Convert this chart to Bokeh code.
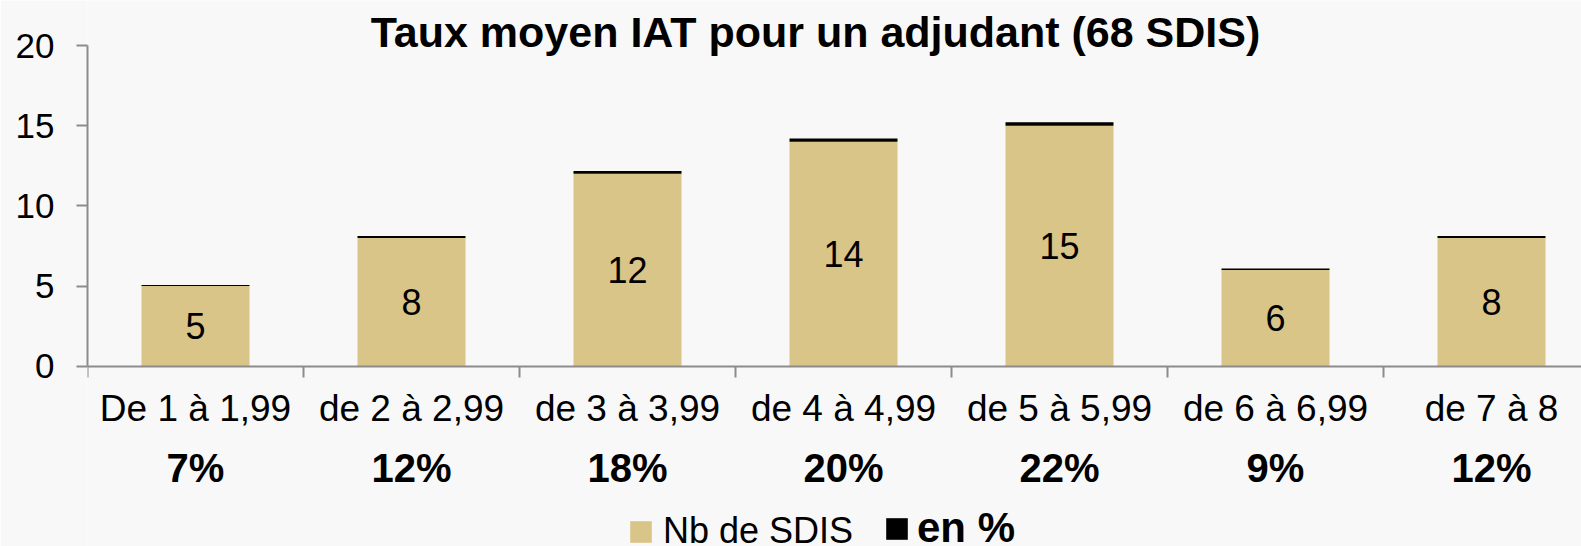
from bokeh.plotting import figure
from bokeh.models import (Range1d, FixedTicker, ColumnDataSource, LabelSet, Label,
                          Legend, LegendItem)
from bokeh.core.properties import value
from bokeh.embed import file_html
from bokeh.resources import INLINE

# ---------------- data ----------------
categories = ["De 1 à 1,99", "de 2 à 2,99", "de 3 à 3,99", "de 4 à 4,99",
              "de 5 à 5,99", "de 6 à 6,99", "de 7 à 8"]
nb_sdis = [5, 8, 12, 14, 15, 6, 8]
en_pct = [0.07, 0.12, 0.18, 0.20, 0.22, 0.09, 0.12]
y_ticks = [0, 5, 10, 15, 20]
title_text = "Taux moyen IAT pour un adjudant (68 SDIS)"
series_names = ["Nb de SDIS", "en %"]

# ---------------- style / layout ----------------
FONT = "Liberation Sans"
BAR = "#D8C587"
AXIS = "#8C8C8C"
BG = "#F8F8F8"

W, H = 1581, 546
BORDER_L = 87
CAT_PX = 216.0          # pixels per category
Y0_PX = 365.7           # pixel row of value 0
Y20_PX = 45.0           # pixel row of value 20
px_per_unit = (Y0_PX - Y20_PX) / (y_ticks[-1] - y_ticks[0])
frame_w = W - BORDER_L

def ydata(px):
    return (Y0_PX - px) / px_per_unit

x_centers = [i + 0.5 for i in range(len(categories))]
source = ColumnDataSource(dict(
    x=x_centers,
    nb=nb_sdis,
    nb_txt=[str(v) for v in nb_sdis],
    nb_mid=[v / 2 for v in nb_sdis],
    pct_top=[n + p for n, p in zip(nb_sdis, en_pct)],
    pct_txt=["%d%%" % round(p * 100) for p in en_pct],
    pct_y=[ydata(481)] * len(categories),
))

p = figure(width=W, height=H, output_backend="svg", toolbar_location=None,
           x_range=Range1d(0, frame_w / CAT_PX),
           y_range=Range1d(ydata(H), ydata(0)),
           min_border_left=BORDER_L, min_border_right=0, min_border_top=0,
           min_border_bottom=0)
p.background_fill_color = BG
p.border_fill_color = BG
p.outline_line_color = None
p.xgrid.visible = False
p.ygrid.visible = False

r1 = p.vbar(x="x", width=0.5, bottom=0, top="nb", source=source,
            fill_color=BAR, line_color=None)
r2 = p.vbar(x="x", width=0.5, bottom="nb", top="pct_top", source=source,
            fill_color="black", line_color=None)

p.text(x="x", y="nb_mid", text="nb_txt", source=source, text_align="center",
       text_baseline="middle", text_font=value(FONT), text_font_size="36px",
       text_color="black")

# y axis
ya = p.yaxis[0]
ya.ticker = FixedTicker(ticks=y_ticks, minor_ticks=[])
ya.bounds = (y_ticks[0], y_ticks[-1])
ya.axis_line_color = AXIS
ya.axis_line_width = 2
ya.major_tick_line_color = AXIS
ya.major_tick_line_width = 2
ya.major_tick_out = 11
ya.major_tick_in = 0
ya.minor_tick_line_color = None
ya.major_label_text_font = FONT
ya.major_label_text_font_size = "35px"
ya.major_label_text_color = "black"
ya.major_label_standoff = 22

# x axis, fixed at value 0
xa = p.xaxis[0]
xa.fixed_location = 0
xa.ticker = FixedTicker(ticks=x_centers, minor_ticks=list(range(len(categories) + 1)))
xa.major_label_overrides = {x: c for x, c in zip(x_centers, categories)}
xa.axis_line_color = AXIS
xa.axis_line_width = 2
xa.major_tick_line_color = None
xa.major_tick_out = 0
xa.major_tick_in = 0
xa.minor_tick_line_color = AXIS
xa.minor_tick_line_width = 2
xa.minor_tick_out = 11
xa.minor_tick_in = 0
xa.major_label_text_font = FONT
xa.major_label_text_font_size = "37px"
xa.major_label_text_color = "black"
xa.major_label_standoff = 11

# percentage labels under categories
p.add_layout(LabelSet(x="x", y="pct_y", text="pct_txt", source=source,
                      text_align="center", text_baseline="alphabetic",
                      text_font=value(FONT), text_font_size="40px",
                      text_font_style="bold", text_color="black"))

# title
p.add_layout(Label(x=(815 - BORDER_L) / CAT_PX, y=ydata(31.5),
                   text=title_text, text_align="center", text_baseline="middle",
                   text_font=FONT, text_font_size="43px", text_font_style="bold",
                   text_color="black"))

# legends
leg_common = dict(orientation="horizontal", padding=0, margin=0, spacing=0,
                  glyph_width=27, glyph_height=27, label_text_color="black",
                  background_fill_alpha=0, border_line_color=None)
leg1 = Legend(items=[LegendItem(label=series_names[0], renderers=[r1])],
              location=(627 - BORDER_L, -6), label_standoff=9,
              label_text_font=FONT, label_text_font_size="36px", **leg_common)
leg2 = Legend(items=[LegendItem(label=series_names[1], renderers=[r2])],
              location=(883 - BORDER_L, -6), label_standoff=7,
              label_text_font=FONT, label_text_font_size="42px",
              label_text_font_style="bold", **leg_common)
p.add_layout(leg1, "center")
p.add_layout(leg2, "center")

open("out.html", "w").write(file_html(p, INLINE))
